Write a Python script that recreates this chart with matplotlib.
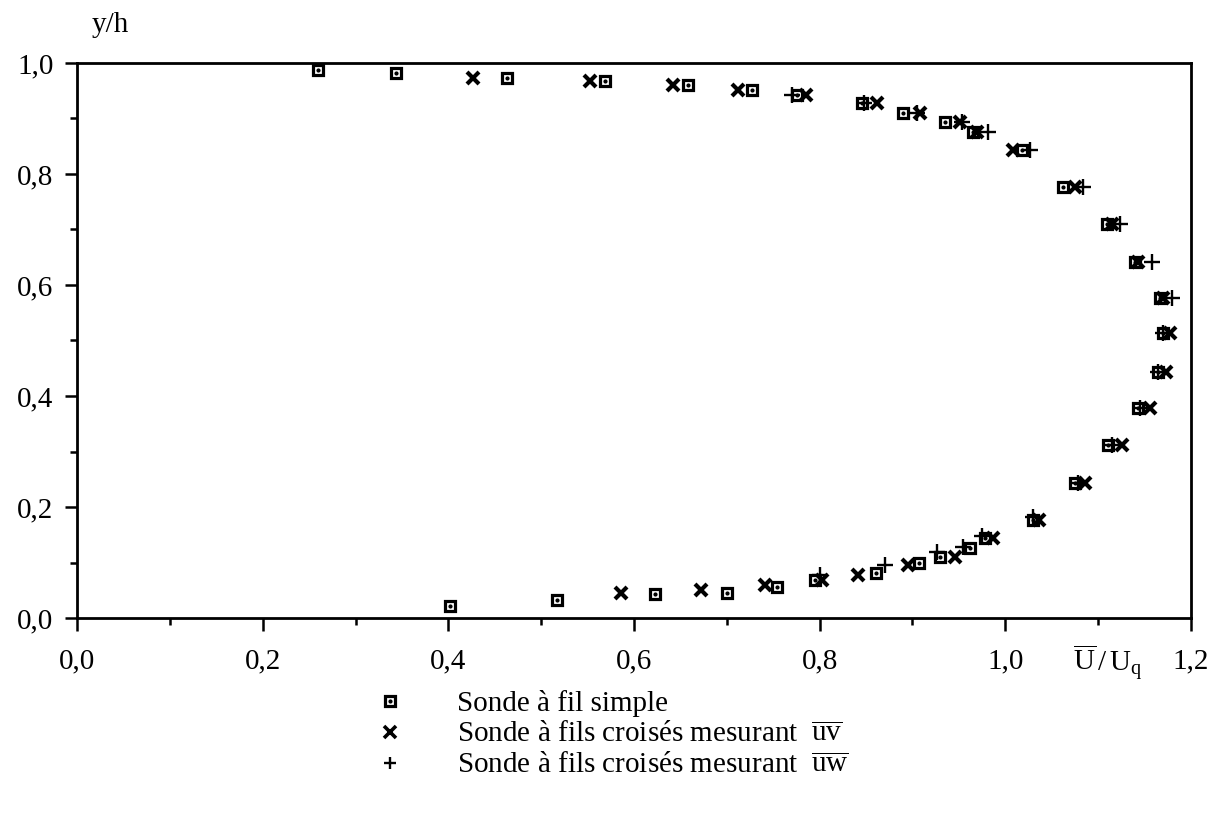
import numpy as np
import matplotlib
matplotlib.use('Agg')
import matplotlib.pyplot as plt
from matplotlib.lines import Line2D
from matplotlib.legend_handler import HandlerTuple

plt.rcParams['font.family'] = ['Liberation Serif', 'DejaVu Serif']
plt.rcParams['mathtext.fontset'] = 'custom'
plt.rcParams['mathtext.rm'] = 'Liberation Serif'
plt.rcParams['mathtext.it'] = 'Liberation Serif:italic'

# sonde a fil simple (squares)
sq_x = [0.260, 0.344, 0.463, 0.569, 0.658, 0.727, 0.776, 0.846, 0.890, 0.935, 0.965,
        1.018, 1.062, 1.110, 1.140, 1.167, 1.170, 1.165, 1.143, 1.111, 1.075, 1.030,
        0.978, 0.962, 0.930, 0.907, 0.861, 0.795, 0.754, 0.700, 0.623, 0.517, 0.402]
sq_y = [0.987, 0.982, 0.973, 0.968, 0.960, 0.951, 0.943, 0.928, 0.910, 0.894, 0.876,
        0.843, 0.777, 0.710, 0.641, 0.577, 0.514, 0.443, 0.378, 0.312, 0.243, 0.177,
        0.144, 0.126, 0.110, 0.099, 0.081, 0.068, 0.056, 0.045, 0.043, 0.032, 0.022]

# fils croises, uv (x)
uv_x = [0.427, 0.553, 0.642, 0.712, 0.785, 0.862, 0.908, 0.951, 0.970, 1.008, 1.075,
        1.115, 1.143, 1.170, 1.177, 1.173, 1.156, 1.126, 1.086, 1.036, 0.987, 0.946,
        0.895, 0.841, 0.803, 0.741, 0.672, 0.586]
uv_y = [0.973, 0.968, 0.960, 0.951, 0.943, 0.928, 0.910, 0.894, 0.876, 0.843, 0.777,
        0.710, 0.641, 0.577, 0.514, 0.443, 0.378, 0.312, 0.243, 0.177, 0.144, 0.110,
        0.095, 0.078, 0.068, 0.059, 0.050, 0.045]

# fils croises, uw (+)
uw_x = [0.770, 0.848, 0.905, 0.953, 0.981, 1.027, 1.084, 1.124, 1.158, 1.180, 1.170,
        1.165, 1.145, 1.115, 1.078, 1.030, 0.975, 0.954, 0.926, 0.870, 0.800]
uw_y = [0.943, 0.928, 0.910, 0.894, 0.876, 0.843, 0.777, 0.710, 0.641, 0.577, 0.514,
        0.443, 0.378, 0.312, 0.243, 0.182, 0.148, 0.128, 0.119, 0.095, 0.078]

x_ticks = [0.0, 0.2, 0.4, 0.6, 0.8, 1.0, 1.2]
x_tick_labels = ['0,0', '0,2', '0,4', '0,6', '0,8', '1,0', '1,2']
y_ticks = [0.0, 0.2, 0.4, 0.6, 0.8, 1.0]
y_tick_labels = ['0,0', '0,2', '0,4', '0,6', '0,8', '1,0']

legend_labels = ['Sonde à fil simple',
                 r'Sonde à fils croisés mesurant  $\overline{\mathrm{uv}}$',
                 r'Sonde à fils croisés mesurant  $\overline{\mathrm{uw}}$']

fs = 21

fig = plt.figure(figsize=(12.17, 8.19), dpi=100)
ax = fig.add_axes([0.0633, 0.2454, 0.9153, 0.6777])

ax.plot(sq_x, sq_y, ls='none', marker='s', ms=7.5, mfc='white', mec='black', mew=2.3, clip_on=False)
ax.plot(sq_x, sq_y, ls='none', marker='o', ms=2, color='black', clip_on=False)
ax.plot(uv_x, uv_y, ls='none', marker='x', ms=9, mew=3, color='black', clip_on=False)
ax.plot(uw_x, uw_y, ls='none', marker='+', ms=11, mew=1.7, color='black', clip_on=False)

ax.set_xlim(0, 1.2)
ax.set_ylim(0, 1.0)
ax.set_xticks(x_ticks)
ax.set_xticklabels(x_tick_labels)
ax.set_yticks(y_ticks)
ax.set_yticklabels(y_tick_labels)
ax.set_xticks(np.arange(0.1, 1.2, 0.2), minor=True)
ax.set_yticks(np.arange(0.1, 1.0, 0.2), minor=True)
ax.tick_params(which='major', direction='out', length=9, width=1.8, labelsize=fs, pad=8)
ax.tick_params(axis='x', which='major', pad=13)
ax.tick_params(which='minor', direction='out', length=5, width=1.8)
for s in ax.spines.values():
    s.set_linewidth(2)

ax.set_xlabel(r'$\overline{\mathrm{U}}\,/\,\mathrm{U_q}$', fontsize=fs)
ax.xaxis.set_label_coords(0.925, -0.045)
ax.set_ylabel('y/h', rotation=0, fontsize=fs, ha='center', va='center')
ax.yaxis.set_label_coords(0.030, 1.068)

h_sq = Line2D([], [], ls='none', marker='s', ms=7.5, mfc='white', mec='black', mew=2.3)
h_dot = Line2D([], [], ls='none', marker='o', ms=2, color='black')
h_uv = Line2D([], [], ls='none', marker='x', ms=8, mew=2.6, color='black')
h_uw = Line2D([], [], ls='none', marker='+', ms=9, mew=1.7, color='black')
fig.legend([(h_sq, h_dot), h_uv, h_uw], legend_labels,
           handler_map={tuple: HandlerTuple(ndivide=1)},
           loc='upper left', bbox_to_anchor=(0.3086, 0.157), frameon=False,
           fontsize=fs, handlelength=1, handletextpad=1.8, labelspacing=0.15,
           borderpad=0, borderaxespad=0)

fig.savefig('out.png', dpi=100)
